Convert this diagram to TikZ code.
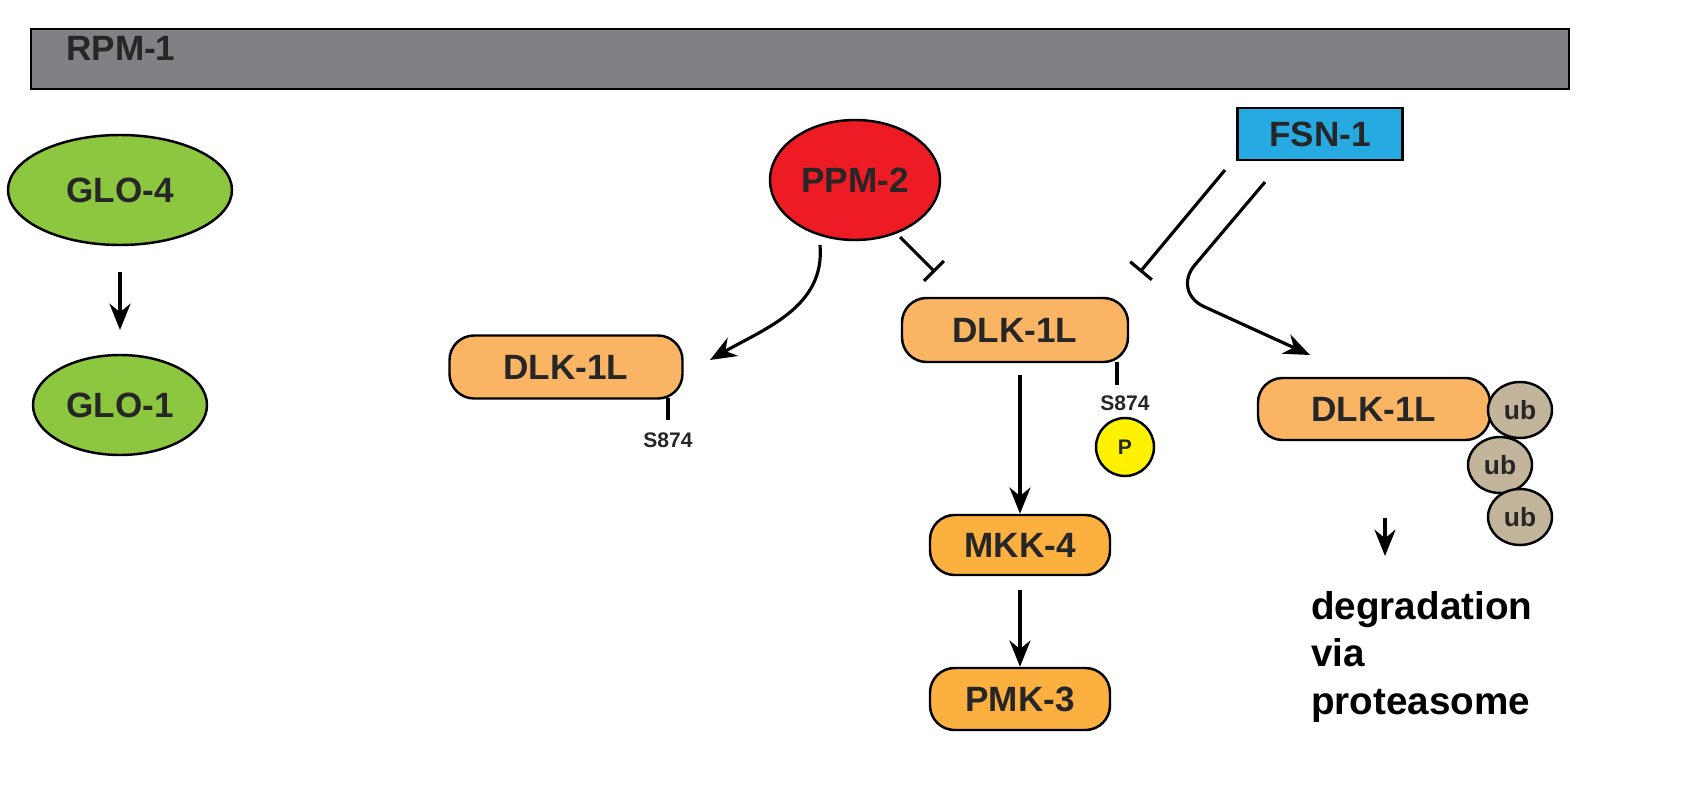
\documentclass[tikz,border=0pt]{standalone}
\usepackage{fontspec}
\setmainfont{Liberation Sans}
\usetikzlibrary{arrows.meta,shapes.geometric}
\definecolor{gbar}{HTML}{808184}
\definecolor{gl}{HTML}{8DC63F}
\definecolor{rd}{HTML}{ED1C24}
\definecolor{dlk}{HTML}{F9B563}
\definecolor{mk}{HTML}{FBB040}
\definecolor{fsn}{HTML}{27AAE1}
\definecolor{ubc}{HTML}{C2B59B}
\definecolor{py}{HTML}{FFF200}
\tikzset{
 x=0.02cm,y=-0.02cm,
 lab/.style={font=\fontsize{20}{22}\selectfont\bfseries,text=black!85},
 ell/.style={ellipse,draw,line width=1.4pt,lab,inner sep=0pt},
 pill/.style={rounded corners=14pt,draw,line width=1.4pt,lab,inner sep=0pt},
 small/.style={font=\fontsize{12}{13}\selectfont\bfseries,text=black!85},
 arr/.style={line width=1.8pt,-{Stealth[length=15pt,width=12pt]}},
 inh/.style={line width=1.8pt,-{Bar[width=16pt]}},
}
\begin{document}
\begin{tikzpicture}
\useasboundingbox (0,0) rectangle (1698,800);
\node[draw,line width=1.4pt,fill=gbar,minimum width=1538*0.02cm,minimum height=60*0.02cm,anchor=north west] (rpm) at (30,28) {};
\node[lab,anchor=west] (rpmt) at (60,48) {RPM-1};
\node[ell,fill=gl,minimum width=224*0.02cm,minimum height=110*0.02cm] (glo4) at (120,190) {GLO-4};
\node[ell,fill=gl,minimum width=174*0.02cm,minimum height=100*0.02cm] (glo1) at (120,405) {GLO-1};
\coordinate (ga) at (120,272); \coordinate (gb) at (120,330);
\draw[arr] (ga) -- (gb);
\node[ell,fill=rd,minimum width=170*0.02cm,minimum height=120*0.02cm] (ppm) at (855,180) {PPM-2};
\node[pill,fill=dlk,minimum width=233*0.02cm,minimum height=63*0.02cm] (d1) at (566,367) {DLK-1L};
\coordinate (s1a) at (668,398); \coordinate (s1b) at (668,420);
\draw[line width=2.5pt] (s1a) -- (s1b);
\node[small] (s1) at (668,440) {S874};
\draw[arr] (820,245) to[out=-85,in=30] (710,360);
\node[pill,fill=dlk,minimum width=226*0.02cm,minimum height=64*0.02cm] (d2) at (1015,330) {DLK-1L};
\draw[inh] (900,237) -- (935,272);
\draw[line width=2.5pt] (1117,362) -- (1117,385);
\node[small] (s2) at (1125,403) {S874};
\node[circle,draw,line width=1.4pt,fill=py,minimum size=58*0.02cm,small,inner sep=0pt] (p) at (1125,447) {P};
\node[pill,fill=mk,minimum width=180*0.02cm,minimum height=60*0.02cm] (mkk) at (1020,545) {MKK-4};
\node[pill,fill=mk,minimum width=180*0.02cm,minimum height=62*0.02cm] (pmk) at (1020,699) {PMK-3};
\draw[arr] (1020,375) -- (mkk.north);
\draw[arr] (1020,590) -- (pmk.north);
\node[draw,line width=1.4pt,fill=fsn,minimum width=165*0.02cm,minimum height=52*0.02cm,lab] (fsn) at (1320,134) {FSN-1};
\draw[inh] (1225,170) -- (1140,272);
\draw[arr,rounded corners=20pt] (1265,182) -- (1172,292) -- (1310,355);
\node[pill,fill=dlk,minimum width=232*0.02cm,minimum height=62*0.02cm] (d3) at (1374,409) {DLK-1L};
\foreach \n/\xx/\yy in {u1/1520/410,u2/1500/465,u3/1520/517}
 \node[ellipse,draw,line width=1.4pt,fill=ubc,minimum width=64*0.02cm,minimum height=56*0.02cm,small,inner sep=0pt,font=\fontsize{15}{16}\selectfont\bfseries] (\n) at (\xx,\yy) {ub};
\draw[arr] (1385,518) -- (1385,556);
\node[anchor=north west,align=left,font=\fontsize{22}{27}\selectfont\bfseries] (deg) at (1305,585) {degradation\\via\\proteasome};
\end{tikzpicture}
\end{document}
